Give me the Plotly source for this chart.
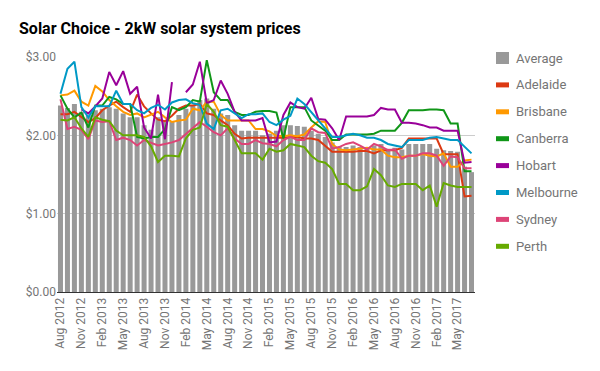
import plotly.graph_objects as go
import pandas as pd

# ---------------- data ----------------
months = [d.strftime("%b %Y") for d in pd.date_range("2012-08-01", periods=60, freq="MS")]
tick_labels = months[::3]

average = [2.38, 2.35, 2.40, 2.30, 2.25, 2.32, 2.34, 2.36, 2.34, 2.28,
           2.23, 2.23, 2.13, 2.07, 2.23, 2.18, 2.18, 2.26, 2.34, 2.38,
           2.45, 2.47, 2.34, 2.28, 2.26, 2.13, 2.06, 2.06, 2.06, 2.00,
           2.02, 2.06, 2.13, 2.13, 2.12, 2.11, 2.06, 2.02, 1.98, 1.91,
           1.85, 1.85, 1.87, 1.85, 1.85, 1.87, 1.89, 1.83, 1.84, 1.82,
           1.89, 1.89, 1.89, 1.89, 1.83, 1.81, 1.80, 1.79, 1.60, 1.53]

adelaide = [2.27, 2.27, 2.30, 2.24, 2.17, 2.22, 2.32, 2.38, 2.43, 2.36,
            2.30, 2.52, 2.37, 2.28, 2.20, 2.18, 2.25, 2.34, 2.38, 2.38,
            2.40, 2.28, 2.26, 2.19, 2.13, 2.02, 1.96, 1.97, 1.97, 1.97,
            1.97, 1.97, 1.97, 1.98, 1.98, 1.96, 1.96, 1.94, 1.86, 1.79,
            1.79, 1.79, 1.79, 1.80, 1.80, 1.77, 1.81, 1.81, 1.81, 1.84,
            1.96, 1.96, 1.96, 1.96, 1.96, 1.76, 1.76, 1.76, 1.22, 1.23]

brisbane = [2.51, 2.52, 2.57, 2.43, 2.38, 2.63, 2.56, 2.45, 2.37, 2.30,
            2.26, 2.28, 2.23, 2.26, 2.30, 2.23, 2.17, 2.19, 2.20, 2.34,
            2.32, 2.43, 2.43, 2.26, 2.19, 2.19, 2.19, 2.19, 2.08, 2.08,
            2.05, 1.99, 1.99, 2.00, 1.99, 2.01, 2.10, 2.18, 2.17, 1.89,
            1.82, 1.81, 1.82, 1.83, 1.84, 1.82, 1.82, 1.74, 1.72, 1.72,
            1.74, 1.74, 1.76, 1.74, 1.73, 1.77, 1.60, 1.60, 1.68, 1.69]

canberra = [2.51, 2.34, 2.23, 2.29, 2.10, 2.38, 2.38, 2.49, 2.46, 2.40,
            2.40, 1.98, 1.96, 1.98, 1.98, 2.08, 2.36, 2.32, 2.36, 2.45,
            2.43, 2.96, 2.55, 2.45, 2.45, 2.30, 2.26, 2.26, 2.30, 2.31,
            2.31, 2.29, 1.96, 2.36, 2.36, 2.36, 2.19, 2.13, 2.06, 1.94,
            1.94, 2.01, 2.01, 2.01, 2.01, 2.02, 2.06, 2.06, 2.06, 2.16,
            2.32, 2.32, 2.32, 2.33, 2.33, 2.32, 2.15, 2.15, 1.54, 1.54]

hobart = [None, None, None, 2.33, 2.28, 2.37, 2.47, 2.81, 2.64, 2.82,
          2.53, 2.62, 2.10, 1.96, 2.52, 1.95, 2.68, None, 2.55, 2.65,
          2.94, 2.41, 2.45, 2.70, 2.53, 2.30, 2.19, 2.19, 2.19, 2.22,
          1.91, 1.92, 2.26, 2.42, 2.36, 2.34, 2.48, 2.21, 2.20, 2.09,
          1.94, 2.24, 2.24, 2.24, 2.24, 2.26, 2.35, 2.33, 2.33, 2.16,
          2.16, 2.15, 2.13, 2.10, 2.10, 2.06, 2.06, 2.06, 1.65, 1.66]

melbourne = [2.53, 2.85, 2.94, 2.36, 2.23, 2.37, 2.37, 2.37, 2.57, 2.40,
             2.40, 2.32, 2.28, 2.35, 2.39, 2.33, 2.42, 2.45, 2.46, 2.41,
             2.39, 2.15, 2.08, 2.32, 2.34, 2.28, 2.22, 2.27, 2.27, 2.28,
             2.17, 2.13, 2.20, 2.25, 2.47, 2.40, 2.30, 2.19, 2.09, 1.98,
             1.98, 2.00, 2.02, 2.00, 1.97, 1.97, 1.94, 1.89, 1.87, 1.85,
             1.94, 1.94, 1.94, 1.97, 1.98, 1.96, 1.94, 1.94, 1.85, 1.77]

sydney = [2.46, 2.08, 2.11, 2.07, 1.95, 2.19, 2.17, 2.18, 1.94, 1.97,
          1.94, 1.87, 1.94, 1.91, 1.87, 1.89, 1.91, 1.94, 2.02, 2.09,
          2.17, 2.11, 2.04, 2.00, 2.09, 1.96, 1.89, 1.89, 1.94, 1.90,
          1.89, 1.86, 1.94, 1.98, 1.94, 1.94, 2.09, 2.04, 2.03, 1.83,
          1.85, 1.89, 1.91, 1.87, 1.82, 1.89, 1.86, 1.81, 1.82, 1.70,
          1.74, 1.74, 1.77, 1.77, 1.74, 1.61, 1.73, 1.72, 1.58, 1.58]

perth = [2.20, 2.19, 2.23, 2.09, 1.98, 2.23, 2.20, 2.18, 2.06, 2.00,
         2.00, 2.00, 1.98, 1.86, 1.66, 1.74, 1.74, 1.73, 1.96, 2.07,
         2.10, 2.40, 2.30, 2.13, 2.11, 1.94, 1.77, 1.77, 1.77, 1.69,
         1.83, 1.79, 1.81, 1.89, 1.87, 1.85, 1.74, 1.67, 1.65, 1.57,
         1.38, 1.38, 1.30, 1.30, 1.35, 1.57, 1.49, 1.36, 1.34, 1.38,
         1.38, 1.38, 1.30, 1.36, 1.09, 1.39, 1.36, 1.34, 1.34, 1.34]

series_names = ["Adelaide", "Brisbane", "Canberra", "Hobart", "Melbourne", "Sydney", "Perth"]
series_values = [adelaide, brisbane, canberra, hobart, melbourne, sydney, perth]
series_colors = ["#dc3912", "#ff9900", "#109618", "#990099", "#0099c6", "#dd4477", "#66aa00"]
bar_color = "#999999"

# ---------------- figure ----------------
W, H = 600, 371
L, R, T, B = 57, 125, 57, 79
PW, PH = W - L - R, H - T - B

FONT = "Roboto, Arial, sans-serif"
GREY = "#757575"

fig = go.Figure()
fig.add_trace(go.Bar(x=months, y=average, name="Average",
                     marker=dict(color=bar_color, line=dict(width=0)),
                     showlegend=False))
for name, vals, col in zip(series_names, series_values, series_colors):
    fig.add_trace(go.Scatter(x=months, y=vals, name=name, mode="lines",
                             line=dict(color=col, width=2), connectgaps=False,
                             showlegend=False))

# custom legend (text + swatches)
def px_x(p):
    return (p - L) / PW

def px_y(p):
    return (T + PH - p) / PH

legend_names = ["Average"] + series_names
legend_colors = [bar_color] + series_colors
annotations = []
shapes = []
for k, (nm, col) in enumerate(zip(legend_names, legend_colors)):
    cy = 58 + 26.9 * k
    annotations.append(dict(x=px_x(514), y=px_y(cy), xref="paper", yref="paper",
                            text=nm, showarrow=False, xanchor="left", yanchor="middle",
                            font=dict(family=FONT, size=13, color=GREY)))
    half = 6 if k == 0 else 2.5
    shapes.append(dict(type="rect", xref="paper", yref="paper",
                       x0=px_x(496), x1=px_x(509), y0=px_y(cy + half), y1=px_y(cy - half),
                       fillcolor=col, line=dict(width=0)))

fig.update_layout(
    width=W, height=H,
    margin=dict(l=L, r=R, t=T, b=B, pad=0),
    paper_bgcolor="white", plot_bgcolor="white",
    font=dict(family=FONT, size=12, color=GREY),
    title=dict(text="<b>Solar Choice - 2kW solar system prices</b>",
               x=19 / W, xanchor="left", xref="container",
               y=1 - 28 / H, yanchor="middle", yref="container",
               font=dict(family=FONT, size=16, color="#000000")),
    bargap=0.28,
    showlegend=False,
    hovermode=False,
    annotations=annotations,
    shapes=shapes,
    xaxis=dict(type="category", categoryorder="array", categoryarray=months,
               range=[-0.5, len(months) - 0.5],
               tickmode="array", tickvals=tick_labels, ticktext=tick_labels,
               tickangle=-90, tickfont=dict(family=FONT, size=12, color=GREY),
               showgrid=False, showline=True, linecolor="#333333", linewidth=1,
               ticks="", zeroline=False, fixedrange=True),
    yaxis=dict(range=[0, 3], tickmode="array", tickvals=[0, 1, 2, 3],
               tickformat="$.2f",
               tickfont=dict(family=FONT, size=12, color=GREY),
               showgrid=True, gridcolor="#cccccc", gridwidth=1,
               zeroline=False, showline=False, ticks="", fixedrange=True),
)

fig.write_html("out.html",
               config={"displayModeBar": False, "staticPlot": True},
               post_script="document.body.style.margin='0';document.body.style.padding='0';")
